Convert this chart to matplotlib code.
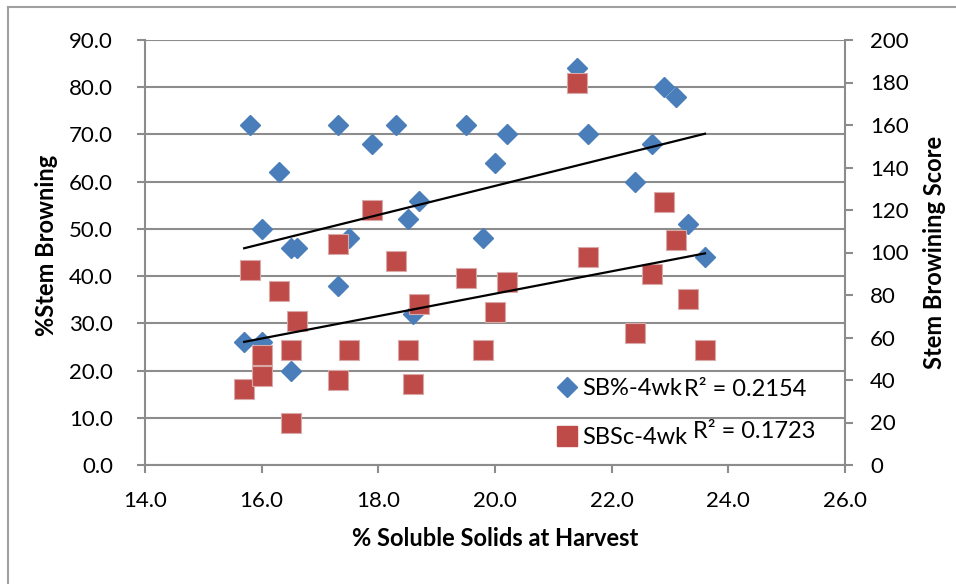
import numpy as np
import matplotlib.pyplot as plt
from matplotlib.lines import Line2D

plt.rcParams['font.family'] = ['Lato', 'DejaVu Sans']

# soluble solids at harvest (shared by both series)
solids = [15.7, 15.8, 16.0, 16.0, 16.3, 16.5, 16.5, 16.6, 17.3, 17.3,
          17.5, 17.9, 18.3, 18.5, 18.6, 18.7, 19.5, 19.8, 20.0, 20.2,
          21.4, 21.6, 22.4, 22.7, 22.9, 23.1, 23.3, 23.6]
# % stem browning after 4 weeks
sb_pct = [26, 72, 50, 26, 62, 46, 20, 46, 72, 38,
          48, 68, 72, 52, 32, 56, 72, 48, 64, 70,
          84, 70, 60, 68, 80, 78, 51, 44]
# stem browning score after 4 weeks
sb_score = [36, 92, 52, 42, 82, 54, 20, 68, 104, 40,
            54, 120, 96, 54, 38, 76, 88, 54, 72, 86,
            180, 98, 62, 90, 124, 106, 78, 54]

r2_labels = ['R\u00b2 = 0.2154', 'R\u00b2 = 0.1723']

blue = '#4A7EBB'
red = '#BE4B48'
grid_c = '#8C8C8C'

W, H = 956, 584
fig = plt.figure(figsize=(W / 100, H / 100), dpi=100)
ax = fig.add_axes([145 / W, 1 - 465 / H, 700 / W, 425 / H])
ax2 = ax.twinx()

x = np.array(solids)
ax.plot(x, sb_pct, 'D', color=blue, ms=9.8, mec=blue, zorder=3, clip_on=False)
ax2.plot(x, sb_score, 's', color=red, ms=14, mec='#D9A9A8', mew=0.8, zorder=3, clip_on=False)

# linear trendlines over the data range
xs = np.array([x.min(), x.max()])
c1 = np.polyfit(x, sb_pct, 1)
c2 = np.polyfit(x, sb_score, 1)
ax2.plot(xs, np.polyval(c1, xs), color='black', lw=1.6, transform=ax.transData, zorder=4)
ax2.plot(xs, np.polyval(c2, xs), color='black', lw=1.6, zorder=4)

ax.set_xlim(14, 26)
ax.set_ylim(0, 90)
ax2.set_ylim(0, 200)
ax.set_xticks(np.arange(14, 26.1, 2))
ax.set_yticks(np.arange(0, 90.1, 10))
ax2.set_yticks(np.arange(0, 201, 20))
ax.xaxis.set_major_formatter(plt.FormatStrFormatter('%.1f'))
ax.yaxis.set_major_formatter(plt.FormatStrFormatter('%.1f'))

ax.yaxis.grid(True, color=grid_c, lw=1.5)
ax.set_axisbelow(True)
for a in (ax, ax2):
    for s in a.spines.values():
        s.set_visible(False)
ax.spines['left'].set_visible(True)
ax.spines['bottom'].set_visible(True)
ax2.spines['right'].set_visible(True)
for s in (ax.spines['left'], ax.spines['bottom'], ax2.spines['right']):
    s.set_color(grid_c)
    s.set_linewidth(1.5)

ax.tick_params(axis='y', length=6, width=1.5, color=grid_c, pad=17, labelsize=16)
ax.tick_params(axis='x', length=6, width=1.5, color=grid_c, pad=13, labelsize=16)
ax2.tick_params(axis='y', length=6, width=1.5, color=grid_c, pad=12, labelsize=16)

ax.set_xlabel('% Soluble Solids at Harvest', fontsize=17, fontweight='bold', labelpad=11)
fig.text(47 / W, 1 - 245 / H, '%Stem Browning', rotation=90, fontsize=17,
         fontweight='bold', ha='center', va='center')
fig.text(935 / W, 1 - 252 / H, 'Stem Browining Score', rotation=90, fontsize=17,
         fontweight='bold', ha='center', va='center')

handles = [Line2D([], [], ls='none', marker='D', color=blue, ms=9.8),
           Line2D([], [], ls='none', marker='s', color=red, ms=14)]
ax2.legend(handles, ['SB%-4wk', 'SBSc-4wk'], loc='upper left',
           bbox_to_anchor=(557 / W, 1 - 378 / H), bbox_transform=fig.transFigure,
           frameon=False, fontsize=17, handlelength=0.85, handletextpad=0.2,
           labelspacing=1.2, borderpad=0, borderaxespad=0)
fig.text(684 / W, 1 - 396 / H, r2_labels[0], fontsize=17, va='baseline')
fig.text(693 / W, 1 - 438 / H, r2_labels[1], fontsize=17, va='baseline')

# chart frame edges
fig.add_artist(Line2D([8 / W, 8 / W], [0, 1 - 7 / H], color='#A0A0A0', lw=1.5,
                      transform=fig.transFigure))
fig.add_artist(Line2D([8 / W, 1], [1 - 7 / H, 1 - 7 / H], color='#A0A0A0', lw=1.5,
                      transform=fig.transFigure))

fig.savefig('out.png', dpi=100)
